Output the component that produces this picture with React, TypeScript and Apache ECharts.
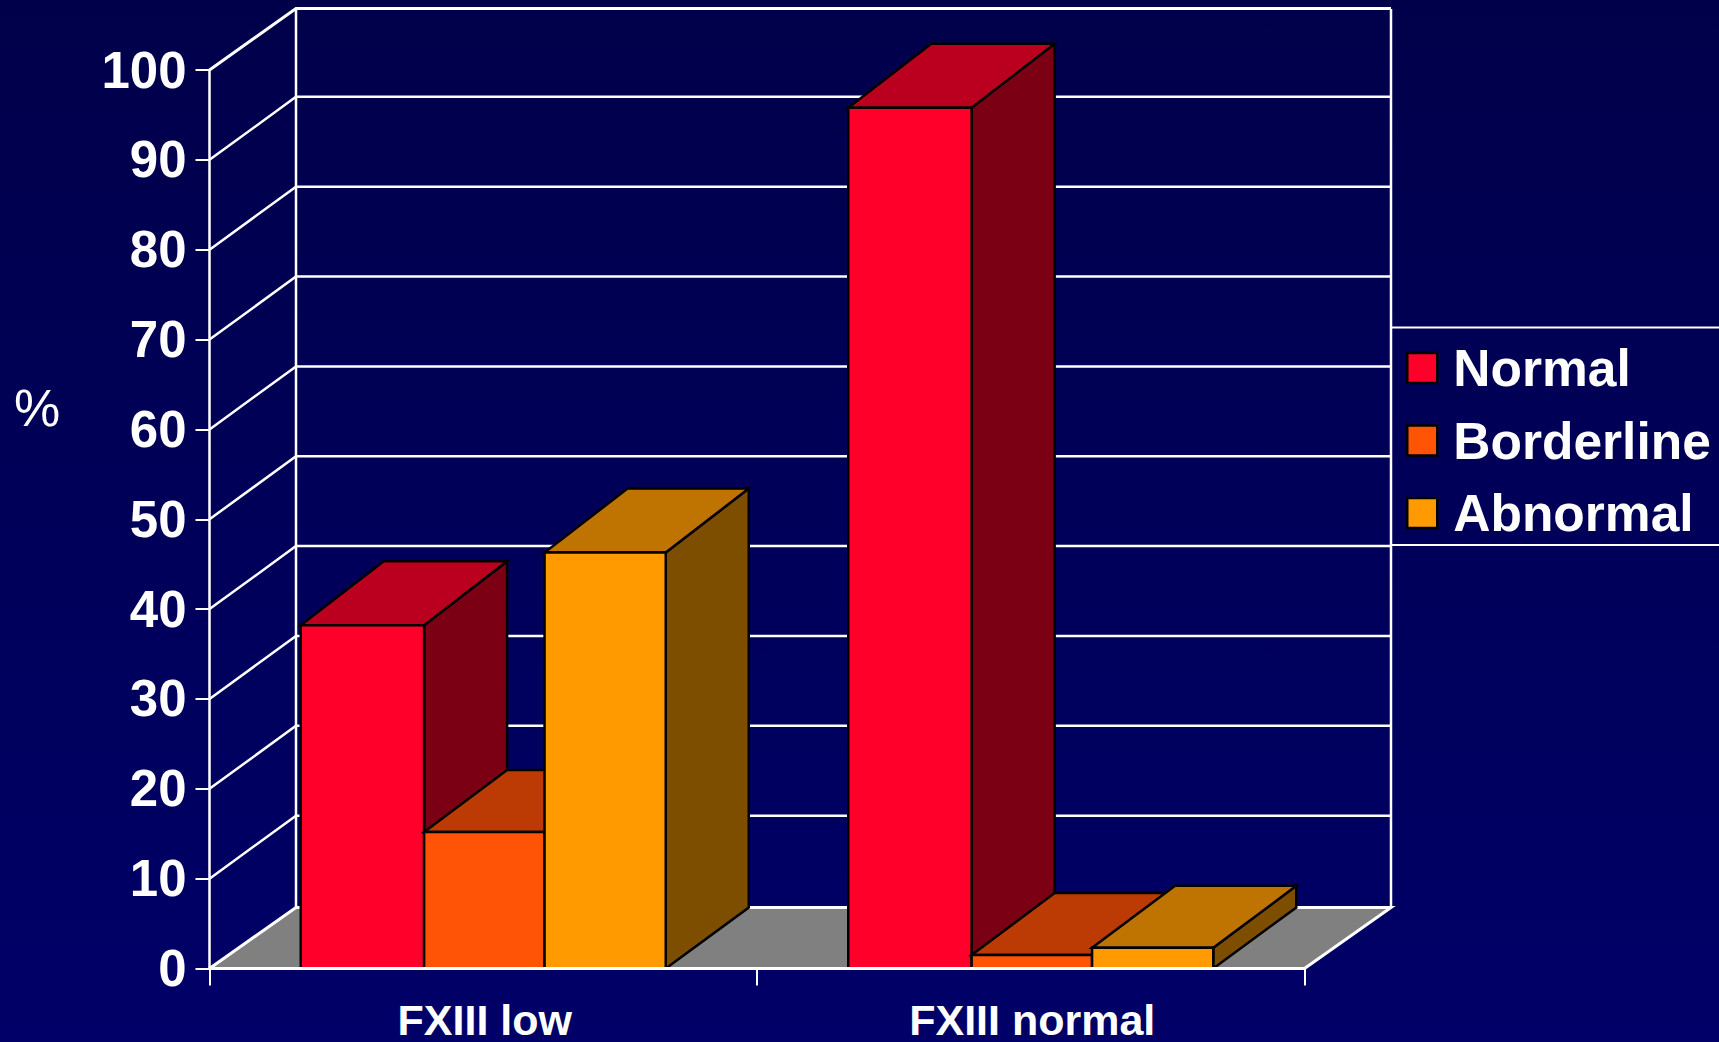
import React, { useEffect, useRef } from "react";
import * as echarts from "echarts";

// Study groups and the share of patients in each result class (%).
const categories = ["FXIII low", "FXIII normal"];
const normalValues = [38.2, 95.8];
const borderlineValues = [15.2, 1.5];
const abnormalValues = [46.3, 2.3];
const yTicks = [0, 10, 20, 30, 40, 50, 60, 70, 80, 90, 100];

const seriesNames = ["Normal", "Borderline", "Abnormal"];
const seriesValues = [normalValues, borderlineValues, abnormalValues];
const frontColors = ["#FF002B", "#FF5306", "#FF9B00"];
const topColors = ["#BA001E", "#BC3B04", "#BF7300"];
const sideColors = ["#7B0013", "#7C2802", "#7D4D00"];

const FONT = "'Liberation Sans', Arial, sans-serif";
const WHITE = "#FFFFFF";

// Oblique offsets of the fake 3D projection.
const WALL_DX = 86.5;
const WALL_DY = 61;
const GRID_DY = 63;
const BAR_DX = 83;
const BAR_TOP_DY_TALL = 64;
const BAR_TOP_DY_LOW = 62;
const BAR_FOOT_DY = 61;
// Cumulative share of the bar cluster taken up by each box.
const clusterEdges = [0, 0.338, 0.668, 1];

// Back wall, side wall and floor, one call per y tick.
function renderWall(params: any, api: any) {
  const v = api.value(1);
  const cs = params.coordSys;
  const y = api.coord([0, v])[1];
  const y0 = api.coord([0, 0])[1];
  const x0 = cs.x;
  const x1 = cs.x + cs.width;
  const white = (width: number) => ({ stroke: WHITE, lineWidth: width, fill: "none" });
  const children: any[] = [];
  if (v === 0) {
    children.push({
      type: "polygon",
      shape: { points: [[x0, y0], [x0 + WALL_DX, y0 - WALL_DY], [x1 + WALL_DX, y0 - WALL_DY], [x1, y0]] },
      style: { fill: "#808080" },
    });
    children.push({
      type: "polyline",
      shape: { points: [[x0, y0], [x0 + WALL_DX, y0 - WALL_DY], [x1 + WALL_DX, y0 - WALL_DY], [x1, y0]] },
      style: white(3),
    });
  } else {
    const dy = v === 100 ? WALL_DY + 0.5 : GRID_DY;
    children.push({
      type: "polyline",
      shape: { points: [[x0, y], [x0 + WALL_DX, y - dy], [x1 + WALL_DX, y - dy]] },
      style: white(v === 100 ? 3 : 2.5),
    });
  }
  if (v === 100) {
    children.push({
      type: "line",
      shape: { x1: x0 + WALL_DX, y1: y - WALL_DY, x2: x0 + WALL_DX, y2: y0 - WALL_DY },
      style: white(2.5),
    });
    children.push({
      type: "line",
      shape: { x1: x1 + WALL_DX, y1: y - WALL_DY, x2: x1 + WALL_DX, y2: y0 - WALL_DY },
      style: white(2.5),
    });
  }
  return { type: "group", children };
}

// One oblique box: side face, top face, front face.
function makeBoxRenderer(seriesIndex: number) {
  return (_params: any, api: any) => {
    const cat = api.value(0);
    const value = api.value(1);
    const [cx, yTop] = api.coord([cat, value]);
    const yBase = api.coord([cat, 0])[1];
    const band = api.size([1, 0])[0];
    const cluster = (band * 2) / 3;
    const left = cx - cluster / 2 + cluster * clusterEdges[seriesIndex];
    const right = cx - cluster / 2 + cluster * clusterEdges[seriesIndex + 1];
    const topDy = value > 30 ? BAR_TOP_DY_TALL : BAR_TOP_DY_LOW;
    const edge = { stroke: "#000000", lineWidth: 2.5, lineJoin: "miter" };
    return {
      type: "group",
      children: [
        {
          type: "polygon",
          shape: {
            points: [
              [right, yBase],
              [right + BAR_DX, yBase - BAR_FOOT_DY],
              [right + BAR_DX, yTop - topDy],
              [right, yTop],
            ],
          },
          style: { fill: sideColors[seriesIndex], ...edge },
        },
        {
          type: "polygon",
          shape: {
            points: [
              [left, yTop],
              [left + BAR_DX, yTop - topDy],
              [right + BAR_DX, yTop - topDy],
              [right, yTop],
            ],
          },
          style: { fill: topColors[seriesIndex], ...edge },
        },
        {
          type: "rect",
          shape: { x: left, y: yTop, width: right - left, height: yBase - yTop },
          style: { fill: frontColors[seriesIndex], ...edge },
        },
      ],
    };
  };
}

export default function App() {
  const ref = useRef<HTMLDivElement>(null);

  useEffect(() => {
    const chart = echarts.init(ref.current!, null, { renderer: "svg" });
    chart.setOption({
      animation: false,
      backgroundColor: {
        type: "linear",
        x: 0,
        y: 0,
        x2: 0,
        y2: 1,
        colorStops: [
          { offset: 0, color: "#00004A" },
          { offset: 1, color: "#000068" },
        ],
      },
      grid: { left: 209.5, top: 70, width: 1095, height: 898.5 },
      xAxis: {
        type: "category",
        data: categories,
        z: 20,
        axisLine: { show: true, lineStyle: { color: WHITE, width: 3 } },
        axisTick: { show: true, length: 17, lineStyle: { color: WHITE, width: 2 } },
        axisLabel: {
          color: WHITE,
          fontFamily: FONT,
          fontWeight: "bold",
          fontSize: 43,
          lineHeight: 38,
          margin: 32,
          padding: [0, 0, 0, 3],
        },
        splitLine: { show: false },
      },
      yAxis: {
        type: "value",
        min: 0,
        max: 100,
        interval: 10,
        z: 20,
        axisLine: { show: true, lineStyle: { color: WHITE, width: 2.5 } },
        axisTick: { show: true, length: 14, lineStyle: { color: WHITE, width: 2 } },
        axisLabel: { color: WHITE, fontFamily: FONT, fontWeight: "bold", fontSize: 51, margin: 23 },
        splitLine: { show: false },
      },
      legend: {
        orient: "vertical",
        left: 1401,
        top: 337,
        icon: "rect",
        itemWidth: 30,
        itemHeight: 30,
        itemGap: 20.5,
        data: seriesNames,
        selectedMode: false,
        itemStyle: { borderColor: "#000000", borderWidth: 2.5 },
        textStyle: {
          color: WHITE,
          fontFamily: FONT,
          fontWeight: "bold",
          fontSize: 51.5,
          lineHeight: 50,
          padding: [0, 0, 0, 11],
        },
      },
      graphic: [
        {
          type: "text",
          left: 14,
          top: 382,
          style: { text: "%", fill: WHITE, font: `52px ${FONT}` },
        },
        {
          type: "line",
          shape: { x1: 1391, y1: 327.5, x2: 1719, y2: 327.5 },
          style: { stroke: WHITE, lineWidth: 2 },
        },
        {
          type: "line",
          shape: { x1: 1391, y1: 545, x2: 1719, y2: 545 },
          style: { stroke: WHITE, lineWidth: 2 },
        },
      ],
      series: [
        {
          type: "custom",
          name: "wall",
          renderItem: renderWall,
          data: yTicks.map((v) => [0, v]),
          clip: false,
          silent: true,
          z: 1,
        },
        ...seriesNames.map((name, i) => ({
          type: "custom",
          name,
          renderItem: makeBoxRenderer(i),
          data: seriesValues[i].map((v, c) => [c, v]),
          itemStyle: { color: frontColors[i] },
          clip: false,
          z: 2 + i,
        })),
      ],
    });
    return () => chart.dispose();
  }, []);

  return <div ref={ref} style={{ position: "absolute", left: 0, top: 0, width: 1719, height: 1042 }} />;
}
